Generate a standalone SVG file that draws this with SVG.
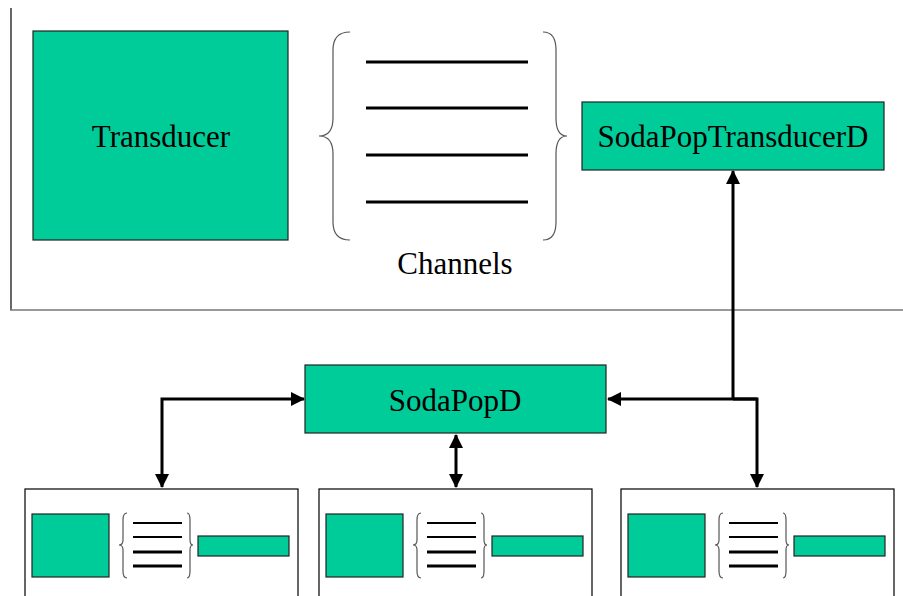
<svg xmlns="http://www.w3.org/2000/svg" xmlns:xlink="http://www.w3.org/1999/xlink" width="903" height="596" viewBox="0 0 903 596">
<style>
.box{fill:#00CC99;stroke:#222;stroke-width:1.2}
.lbl{font-family:"Liberation Serif","Times New Roman",serif;font-size:31px;fill:#000;text-anchor:middle}
.brace{fill:none;stroke:#555;stroke-width:1.2}
.ch{stroke:#000;stroke-width:3}
.panel{fill:#fff;stroke:#000;stroke-width:1.2}
.conn{fill:none;stroke:#000;stroke-width:3}
</style>
<defs>
<marker id="ah" viewBox="0 0 14 14" refX="13" refY="7" markerWidth="14" markerHeight="14" markerUnits="userSpaceOnUse" orient="auto-start-reverse">
<path d="M0,0 L14,7 L0,14 Z" fill="#000"/>
</marker>
<g id="mini">
<rect class="panel" x="25" y="489" width="273" height="120"/>
<rect class="box" x="32" y="514" width="77" height="63"/>
<path class="brace" d="M127,513 Q123,513 123,520 L123,540 Q123,545 119,545 Q123,545 123,550 L123,571 Q123,578 127,578"/>
<path class="brace" d="M187,513 Q190,513 190,520 L190,540 Q190,545 193,545 Q190,545 190,550 L190,571 Q190,578 187,578"/>
<line x1="133" y1="523" x2="182" y2="523" stroke="#000" stroke-width="2"/>
<line x1="133" y1="537" x2="182" y2="537" stroke="#000" stroke-width="2"/>
<line x1="133" y1="552" x2="182" y2="552" stroke="#000" stroke-width="3"/>
<line x1="133" y1="566" x2="182" y2="566" stroke="#000" stroke-width="3"/>
<rect class="box" x="198" y="536" width="91" height="20"/>
</g>
</defs>
<rect width="903" height="596" fill="#fff"/>
<g id="top-panel">
<line x1="11" y1="8" x2="11" y2="310" stroke="#000" stroke-width="1.2"/>
<line x1="10" y1="310" x2="903" y2="310" stroke="#777" stroke-width="1.5"/>
</g>
<g id="transducer">
<rect class="box" x="33" y="31" width="255" height="209"/>
<text class="lbl" x="161" y="147">Transducer</text>
</g>
<g id="channels">
<path class="brace" d="M350,32 Q333,32 333,50 L333,118 Q333,136 319,136 Q333,136 333,154 L333,222 Q333,240 350,240"/>
<path class="brace" d="M543,32 Q556,32 556,50 L556,118 Q556,136 567,136 Q556,136 556,154 L556,222 Q556,240 543,240"/>
<line class="ch" x1="366" y1="62" x2="528" y2="62"/>
<line class="ch" x1="366" y1="108" x2="528" y2="108"/>
<line class="ch" x1="366" y1="155" x2="528" y2="155"/>
<line class="ch" x1="366" y1="202" x2="528" y2="202"/>
<text class="lbl" x="455" y="274">Channels</text>
</g>
<g id="sodapoptransducerd">
<rect class="box" x="582" y="102" width="302" height="68"/>
<text class="lbl" x="733" y="147">SodaPopTransducerD</text>
</g>
<g id="sodapopd">
<rect class="box" x="305" y="365" width="301" height="68"/>
<text class="lbl" x="455" y="411">SodaPopD</text>
</g>
<g id="node-left"><use xlink:href="#mini"/></g>
<g id="node-middle"><use xlink:href="#mini" x="294"/></g>
<g id="node-right"><use xlink:href="#mini" x="596"/></g>
<g id="connectors">
<path class="conn" d="M733,399 L733,171" marker-end="url(#ah)"/>
<path class="conn" d="M757,399 L608,399" marker-end="url(#ah)"/>
<path class="conn" d="M733,399 L757,399 L757,487" marker-end="url(#ah)"/>
<path class="conn" d="M162,487 L162,399 L304,399" marker-start="url(#ah)" marker-end="url(#ah)"/>
<path class="conn" d="M456,435 L456,487" marker-start="url(#ah)" marker-end="url(#ah)"/>
</g>
</svg>
